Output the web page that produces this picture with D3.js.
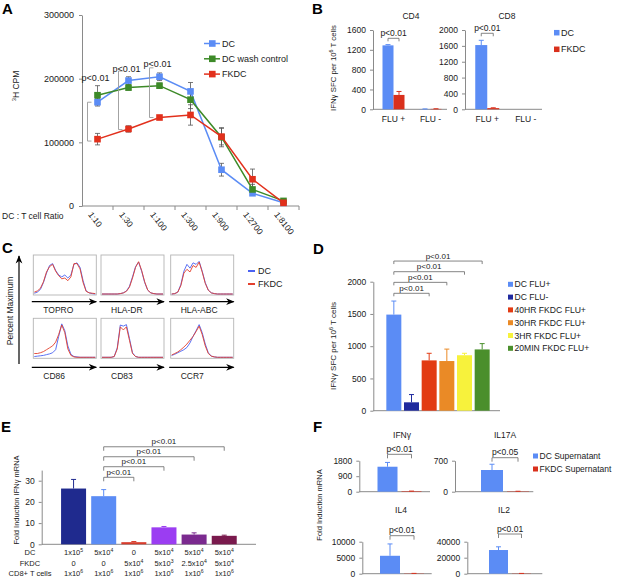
<!DOCTYPE html>
<html><head><meta charset="utf-8">
<script src="https://cdn.jsdelivr.net/npm/d3@7"></script>
<style>
body{margin:0;background:#fff}
svg{font-family:"Liberation Sans",Arial,sans-serif}
</style></head>
<body><svg id="fig" width="617" height="584"></svg>
<script>
// ---- A: proliferation ----
const ratios = ["1:10","1:30","1:100","1:300","1:900","1:2700","1:8100"]
const cpmDC = [163000,197000,203000,180000,57000,20000,5000]
const cpmDCErr = [6000,6000,6000,14000,10000,3000,2000]
const cpmWash = [174000,186000,189000,167000,108000,26000,8000]
const cpmWashErr = [15000,4000,4000,14000,15000,8000,2000]
const cpmFKDC = [105000,121000,139000,143000,109000,42000,5000]
const cpmFKDCErr = [9000,5000,3000,16000,13000,16000,2000]
const pA_top = [163000,212000,217000]
const pA_bot = [102000,120000,139000]
const pA_txt = [196000,211000,219000]

// ---- B: ELISPOT CD4 / CD8 ----
const groupsB = ["FLU +","FLU -"]
const cd4DC = [1290,5], cd4DCErr = [15,3]
const cd4FKDC = [290,8], cd4FKDCErr = [70,3]
const cd8DC = [1620,0], cd8DCErr = [120,0]
const cd8FKDC = [30,0], cd8FKDCErr = [8,0]

// ---- C: flow histograms ----
const cMarkers = ["TOPRO","HLA-DR","HLA-ABC","CD86","CD83","CCR7"]
const histDC = [
  [0.02,0.05,0.12,0.3,0.55,0.75,0.8,0.62,0.5,0.45,0.5,0.42,0.5,0.78,0.82,0.7,0.35,0.08,0.03,0.01,0],
  [0,0,0,0,0,0,0.01,0.03,0.08,0.2,0.45,0.72,0.84,0.6,0.3,0.1,0.03,0.01,0,0,0],
  [0,0.01,0.05,0.25,0.6,0.78,0.68,0.82,0.78,0.86,0.6,0.3,0.1,0.03,0.01,0,0,0,0,0,0],
  [0.02,0.03,0.04,0.05,0.07,0.09,0.12,0.2,0.55,0.88,0.7,0.3,0.08,0.02,0.01,0,0,0,0,0,0],
  [0,0,0,0,0.02,0.25,0.85,0.82,0.86,0.5,0.12,0.02,0,0,0,0,0,0,0,0,0],
  [0.05,0.08,0.12,0.16,0.2,0.26,0.38,0.55,0.7,0.86,0.65,0.35,0.12,0.03,0.01,0,0,0,0,0,0]
]
const histFKDC = [
  [0.05,0.08,0.15,0.32,0.58,0.72,0.78,0.6,0.48,0.4,0.42,0.35,0.45,0.8,0.8,0.66,0.3,0.07,0.03,0.02,0.01],
  [0,0,0,0,0,0,0.01,0.03,0.07,0.18,0.42,0.7,0.85,0.62,0.32,0.1,0.03,0.01,0,0,0],
  [0,0.01,0.05,0.22,0.55,0.65,0.58,0.75,0.7,0.84,0.58,0.28,0.1,0.03,0.01,0,0,0,0,0,0],
  [0.1,0.1,0.12,0.15,0.2,0.25,0.3,0.4,0.6,0.85,0.65,0.22,0.05,0.01,0,0,0,0,0,0,0],
  [0,0,0,0,0.02,0.22,0.8,0.72,0.8,0.45,0.1,0.02,0,0,0,0,0,0,0,0,0],
  [0.06,0.1,0.14,0.2,0.27,0.35,0.45,0.55,0.68,0.82,0.6,0.3,0.1,0.03,0.01,0,0,0,0,0,0]
]

// ---- D: FKDC timing ----
const dGroups = ["DC FLU+","DC FLU-","40HR FKDC FLU+","30HR FKDC FLU+","3HR FKDC FLU+","20MIN FKDC FLU+"]
const dVals = [1490,130,780,770,860,950]
const dErr = [210,120,110,185,30,90]
const dBracket = [1820,1990,2155,2320]

// ---- E: CD8 IFNg mRNA ----
const eVals = [26.3,22.7,1.0,8.0,4.6,4.0]
const eErr = [4.3,3.1,0.3,0.4,0.8,0.3]
const eBracket = [31.6,36.6,41.3,46]
const eRowDC = ["1x10^5","5x10^4","0","5x10^4","5x10^4","5x10^4"]
const eRowFKDC = ["0","0","5x10^4","5x10^3","2.5x10^4","5x10^4"]
const eRowCD8 = ["1x10^6","1x10^6","1x10^6","1x10^6","1x10^6","1x10^6"]

// ---- F: supernatant cytokines ----
const fCats = ["DC Supernatant","FKDC Supernatant"]
const fIFNG = [1450,30], fIFNGErr = [250,5]
const fIL17A = [490,8], fIL17AErr = [130,2]
const fIL4 = [5600,80], fIL4Err = [3700,20]
const fIL2 = [29600,300], fIL2Err = [4000,50]

const BLUE = '#5b8cf5', RED = '#d9301c', AX = '#8a8a8a', TXT = '#1a1a1a'
const svg = d3.select('#fig')
const defs = svg.append('defs')
defs.append('marker').attr('id','arr').attr('viewBox','0 0 10 10').attr('refX',9).attr('refY',5)
  .attr('markerWidth',7).attr('markerHeight',7).attr('orient','auto')
  .append('path').attr('d','M0,1 L10,5 L0,9 L3,5 Z').attr('fill','#000')

// text with ^x superscripts
function rich(sel, str, fs) {
  const parts = str.split(/\^(\w)/)
  let up = false
  parts.forEach((p, i) => {
    if (p === '') return
    const t = sel.append('tspan').text(p)
    if (i % 2 === 1) { t.attr('dy', -fs * 0.4).attr('font-size', fs * 0.68); up = true }
    else if (up) { t.attr('dy', fs * 0.4); up = false }
  })
  return sel
}

function styleAxis(g, fs) {
  g.attr('font-family', null).attr('font-size', fs)
  g.select('.domain').attr('stroke', AX)
  g.selectAll('.tick line').attr('stroke', AX)
  g.selectAll('.tick text').attr('fill', TXT)
}

function ylabel(x, y, str, fs) {
  rich(svg.append('text').attr('transform', `translate(${x},${y}) rotate(-90)`)
    .attr('text-anchor','middle').attr('font-size', fs).attr('fill', TXT), str, fs)
}

// panel letters
;[['A',2,14],['B',312,14],['C',2,253],['D',313,254],['E',1,432],['F',313,432]].forEach(([t,x,y]) =>
  svg.append('text').attr('x',x).attr('y',y).attr('font-size',15).attr('font-weight','bold').text(t))

// ================= A =================
{
  const xA = d3.scaleBand().domain(ratios).range([82, 299])
  const yA = d3.scaleLinear().domain([0, 300000]).range([206, 15])
  const cx = i => xA(ratios[i]) + xA.bandwidth() / 2
  const ga = svg.append('g').attr('transform','translate(82,0)')
    .call(d3.axisLeft(yA).tickValues([0,100000,200000,300000]).tickFormat(d3.format('d')).tickSize(3).tickSizeOuter(0).tickPadding(5))
  styleAxis(ga, 9)
  svg.append('line').attr('x1',82).attr('x2',299).attr('y1',206).attr('y2',206).attr('stroke',AX)
  svg.selectAll('.xtA').data(ratios).enter().append('line')
    .attr('x1', d => xA(d) + xA.bandwidth()).attr('x2', d => xA(d) + xA.bandwidth())
    .attr('y1',206).attr('y2',210).attr('stroke',AX)
  svg.selectAll('.xlA').data(ratios).enter().append('text')
    .attr('transform', (d,i) => `translate(${cx(i) - 5},${211}) rotate(52)`)
    .attr('font-size',8.5).attr('fill',TXT).attr('dy','0.7em').text(d => d)
  svg.append('text').attr('x',2).attr('y',219).attr('font-size',8.5).attr('fill',TXT).text('DC : T cell Ratio')
  ylabel(19, 86, '^3H CPM', 8.5)

  const seriesA = [
    {name:'DC', v:cpmDC, e:cpmDCErr, c:BLUE},
    {name:'DC wash control', v:cpmWash, e:cpmWashErr, c:'#3d8a28'},
    {name:'FKDC', v:cpmFKDC, e:cpmFKDCErr, c:'#e2301c'}
  ]
  seriesA.forEach(s => {
    s.v.forEach((v, i) => {
      const x = cx(i)
      svg.append('path').attr('fill','none').attr('stroke','#555').attr('stroke-width',0.8)
        .attr('d', `M${x},${yA(v - s.e[i])}V${yA(v + s.e[i])}M${x-2.5},${yA(v + s.e[i])}H${x+2.5}M${x-2.5},${yA(v - s.e[i])}H${x+2.5}`)
    })
  })
  seriesA.forEach(s => {
    svg.append('path').datum(s.v).attr('fill','none').attr('stroke', s.c).attr('stroke-width',1.5)
      .attr('d', d3.line().x((d,i) => cx(i)).y(d => yA(d)))
    svg.selectAll(null).data(s.v).enter().append('rect')
      .attr('x', (d,i) => cx(i) - 3.3).attr('y', d => yA(d) - 3.3).attr('width',6.6).attr('height',6.6).attr('fill', s.c)
  })
  // legend
  seriesA.forEach((s, i) => {
    const y = 43.5 + i * 15.3
    svg.append('line').attr('x1',204).attr('x2',220).attr('y1',y).attr('y2',y).attr('stroke',s.c).attr('stroke-width',1.5)
    svg.append('rect').attr('x',209).attr('y',y-3.3).attr('width',6.6).attr('height',6.6).attr('fill',s.c)
    svg.append('text').attr('x',222).attr('y',y).attr('dy','0.35em').attr('font-size',9).attr('fill',TXT).text(s.name)
  })
  // p-value brackets
  pA_top.forEach((t, i) => {
    const x = cx(i) - 10
    svg.append('path').attr('fill','none').attr('stroke','#999').attr('stroke-width',0.9)
      .attr('d', `M${x+4},${yA(t)}H${x}V${yA(pA_bot[i])}H${x+4}`)
    svg.append('text').attr('x', cx(i) - 2).attr('y', yA(pA_txt[i])).attr('text-anchor','middle')
      .attr('font-size',9).attr('fill',TXT).text('p<0.01')
  })
}

// ================= generic bar chart =================
function barChart(c) {
  const y = d3.scaleLinear().domain([0, c.max]).range(c.yr)
  const x = d3.scaleBand().domain(d3.range(c.cats.length)).range(c.br)
  const nS = c.series.length
  const bx = (ci, si) => x(ci) + x.bandwidth() / 2 + (si - (nS - 1) / 2) * c.bw
  const ga = svg.append('g').attr('transform', `translate(${c.ax[0]},0)`)
    .call(d3.axisLeft(y).tickValues(c.ticks).tickFormat(d3.format('d')).tickSize(3).tickSizeOuter(0).tickPadding(4))
  styleAxis(ga, c.fs || 8.5)
  svg.append('line').attr('x1', c.ax[0]).attr('x2', c.ax[1]).attr('y1', c.yr[0]).attr('y2', c.yr[0]).attr('stroke', AX)
  c.series.forEach((s, si) => {
    const col = ci => Array.isArray(s.c) ? s.c[ci] : s.c
    svg.selectAll(null).data(s.v).enter().append('rect')
      .attr('x', (d, ci) => bx(ci, si) - c.bw / 2).attr('width', c.bw)
      .attr('y', d => y(d)).attr('height', d => c.yr[0] - y(d))
      .attr('fill', (d, ci) => col(ci))
    s.v.forEach((v, ci) => {
      if (!s.e[ci]) return
      const xx = bx(ci, si), yt = y(v + s.e[ci])
      svg.append('path').attr('fill','none').attr('stroke', col(ci)).attr('stroke-width',1)
        .attr('d', `M${xx},${y(v)}V${yt}M${xx-2.5},${yt}H${xx+2.5}`)
    })
  })
  if (c.xlabels) svg.selectAll(null).data(c.cats).enter().append('text')
    .attr('x', (d, ci) => x(ci) + x.bandwidth() / 2).attr('y', c.yr[0] + 13)
    .attr('text-anchor','middle').attr('font-size', 8.5).attr('fill', TXT).text(d => d)
  if (c.title) svg.append('text').attr('x', c.title[1]).attr('y', c.title[2]).attr('text-anchor','middle')
    .attr('font-size', 8.5).attr('fill', TXT).text(c.title[0])
  ;(c.brackets || []).forEach(b => {
    const x1 = bx(...b.a), x2 = bx(...b.b), yy = y(b.v), tk = b.tk || 3
    svg.append('path').attr('fill','none').attr('stroke','#666').attr('stroke-width',0.8)
      .attr('d', `M${x1},${yy + tk}V${yy}H${x2}V${yy + tk}`)
    svg.append('text').attr('x', (x1 + x2) / 2).attr('y', yy - 2.5).attr('text-anchor','middle')
      .attr('font-size', b.fs || 8.5).attr('fill', TXT).text(b.label)
  })
  return {x, y, bx}
}

function squareLegend(names, colors, x, y0, dy, fs, sz) {
  names.forEach((n, i) => {
    const y = y0 + i * dy
    svg.append('rect').attr('x', x).attr('y', y - sz / 2).attr('width', sz).attr('height', sz).attr('fill', colors[i])
    svg.append('text').attr('x', x + sz + 1.5).attr('y', y).attr('dy','0.35em').attr('font-size', fs).attr('fill', TXT).text(n)
  })
}

// ================= B =================
barChart({cats: groupsB, max: 1600, yr: [109.3, 30], ax: [373, 447], br: [375, 449], bw: 11,
  ticks: [0,400,800,1200,1600], xlabels: true, title: ['CD4', 411, 19],
  series: [{v: cd4DC, e: cd4DCErr, c: BLUE}, {v: cd4FKDC, e: cd4FKDCErr, c: RED}],
  brackets: [{a: [0,0], b: [0,1], v: 1432, label: 'p<0.01'}]})
barChart({cats: groupsB, max: 2000, yr: [109.3, 30], ax: [465, 542], br: [468, 545], bw: 12,
  ticks: [0,400,800,1200,1600,2000], xlabels: true, title: ['CD8', 507, 19],
  series: [{v: cd8DC, e: cd8DCErr, c: BLUE}, {v: cd8FKDC, e: cd8FKDCErr, c: RED}],
  brackets: [{a: [0,0], b: [0,1], v: 1917, label: 'p<0.01'}]})
ylabel(336, 68, 'IFNγ SFC per 10^6 T cells', 7.8)
squareLegend(['DC','FKDC'], [BLUE, RED], 554, 32.7, 16.6, 9, 5.5)

// ================= C =================
{
  const boxX = [33.3, 101, 170.7], boxY = [255, 318.3], bwC = 63, bhC = 40
  const arrowY = [301.7, 367.3], labY = [312.5, 379]
  const xs = d3.scaleLinear().domain([0, 20])
  cMarkers.forEach((m, k) => {
    const col = k % 3, row = Math.floor(k / 3)
    const x0 = boxX[col], y0 = boxY[row]
    svg.append('rect').attr('x', x0).attr('y', y0).attr('width', bwC).attr('height', bhC)
      .attr('fill','none').attr('stroke','#b4b4b4').attr('stroke-width',0.9)
    xs.range([x0 + 1, x0 + bwC - 1])
    const ys = d3.scaleLinear().domain([0, 1]).range([y0 + bhC - 1, y0 + 1])
    const line = d3.line().x((d, i) => xs(i)).y(d => ys(d))
    svg.append('path').datum(histDC[k]).attr('fill','none').attr('stroke','#4b62f2').attr('stroke-width',0.9).attr('d', line)
    svg.append('path').datum(histFKDC[k]).attr('fill','none').attr('stroke','#e3402e').attr('stroke-width',0.9).attr('d', line)
    svg.append('line').attr('x1', x0 - 1.5).attr('x2', x0 + bwC).attr('y1', arrowY[row]).attr('y2', arrowY[row])
      .attr('stroke','#000').attr('stroke-width',1.2).attr('marker-end','url(#arr)')
    svg.append('text').attr('x', x0 + 10).attr('y', labY[row]).attr('font-size', 8.5).attr('fill', TXT).text(m)
  })
  svg.append('line').attr('x1',19).attr('x2',19).attr('y1',364).attr('y2',256)
    .attr('stroke','#000').attr('stroke-width',1.2).attr('marker-end','url(#arr)')
  ylabel(13, 311, 'Percent Maximum', 8.5)
  ;[['DC','#4b62f2',271],['FKDC','#e3402e',284]].forEach(([n,c,y]) => {
    svg.append('line').attr('x1',248).attr('x2',255).attr('y1',y).attr('y2',y).attr('stroke',c).attr('stroke-width',2)
    svg.append('text').attr('x',258).attr('y',y).attr('dy','0.35em').attr('font-size',9).attr('fill',TXT).text(n)
  })
}

// ================= D =================
const dColors = [BLUE,'#1f2a9e','#e23b13','#ea8a26','#f7f23c','#4a8f2c']
barChart({cats: dGroups, max: 2000, yr: [410.7, 281.7], ax: [373.3, 500], br: [385, 491], bw: 15,
  ticks: [0,500,1000,1500,2000], series: [{v: dVals, e: dErr, c: dColors}],
  brackets: dBracket.map((v, i) => ({a: [0,0], b: [i + 2, 0], v, label: 'p<0.01', fs: 8}))})
ylabel(336, 346, 'IFNγ SFC per 10^6 T cells', 8)
squareLegend(dGroups, dColors, 508, 284.3, 12.8, 8.6, 5)

// ================= E =================
{
  const eColors = ['#1f2a8e', BLUE, '#d73b2b', '#9b3df2', '#7b2a8f', '#7a1a4d']
  const r = barChart({cats: eRowDC, max: 35, yr: [544.3, 470.1], ax: [41.7, 256], br: [58.5, 239.3], bw: 25,
    ticks: [0,10,20,30], series: [{v: eVals, e: eErr, c: eColors}],
    brackets: eBracket.map((v, i) => ({a: [1,0], b: [i + 2, 0], v, label: 'p<0.01', tk: 4, fs: 8}))})
  ylabel(19, 500, 'Fold Induction IFNγ mRNA', 7.5)
  const rows = [['DC', eRowDC, 555], ['FKDC', eRowFKDC, 565.7], ['CD8+ T cells', eRowCD8, 576]]
  rows.forEach(([lab, vals, y]) => {
    svg.append('text').attr('x', 30).attr('y', y).attr('text-anchor','middle').attr('font-size', 7.5).attr('fill', TXT).text(lab)
    vals.forEach((v, i) => rich(svg.append('text').attr('x', r.bx(i, 0)).attr('y', y).attr('text-anchor','middle')
      .attr('font-size', 7.5).attr('fill', TXT), v, 7.5))
  })
}

// ================= F =================
const fCol = [BLUE, RED]
barChart({cats: fCats, max: 1800, yr: [491.7, 460.7], ax: [359.3, 430], br: [375.5, 423.5], bw: 20,
  ticks: [0,900,1800], title: ['IFNγ', 402, 438], series: [{v: fIFNG, e: fIFNGErr, c: fCol}],
  brackets: [{a: [0,0], b: [1,0], v: 2170, label: 'p<0.01', tk: 4}]})
barChart({cats: fCats, max: 700, yr: [491.7, 460.7], ax: [455, 533.3], br: [479, 531], bw: 22,
  ticks: [0,700], title: ['IL17A', 505, 438], series: [{v: fIL17A, e: fIL17AErr, c: fCol}],
  brackets: [{a: [0,0], b: [1,0], v: 768, label: 'p<0.05', tk: 4}]})
barChart({cats: fCats, max: 10000, yr: [573.7, 541.7], ax: [362.3, 431.7], br: [378, 426], bw: 20,
  ticks: [0,5000,10000], title: ['IL4', 401, 513], series: [{v: fIL4, e: fIL4Err, c: fCol}],
  brackets: [{a: [0,0], b: [1,0], v: 11875, label: 'p<0.01', tk: 4}]})
barChart({cats: fCats, max: 40000, yr: [573.7, 541.7], ax: [467.3, 542.3], br: [487, 533], bw: 19,
  ticks: [0,20000,40000], title: ['IL2', 504, 513], series: [{v: fIL2, e: fIL2Err, c: fCol}],
  brackets: [{a: [0,0], b: [1,0], v: 49600, label: 'p<0.01', tk: 4}]})
ylabel(322, 505, 'Fold Induction mRNA', 7.5)
squareLegend(fCats, fCol, 533, 456, 13, 8.5, 5)
</script>
</body></html>
